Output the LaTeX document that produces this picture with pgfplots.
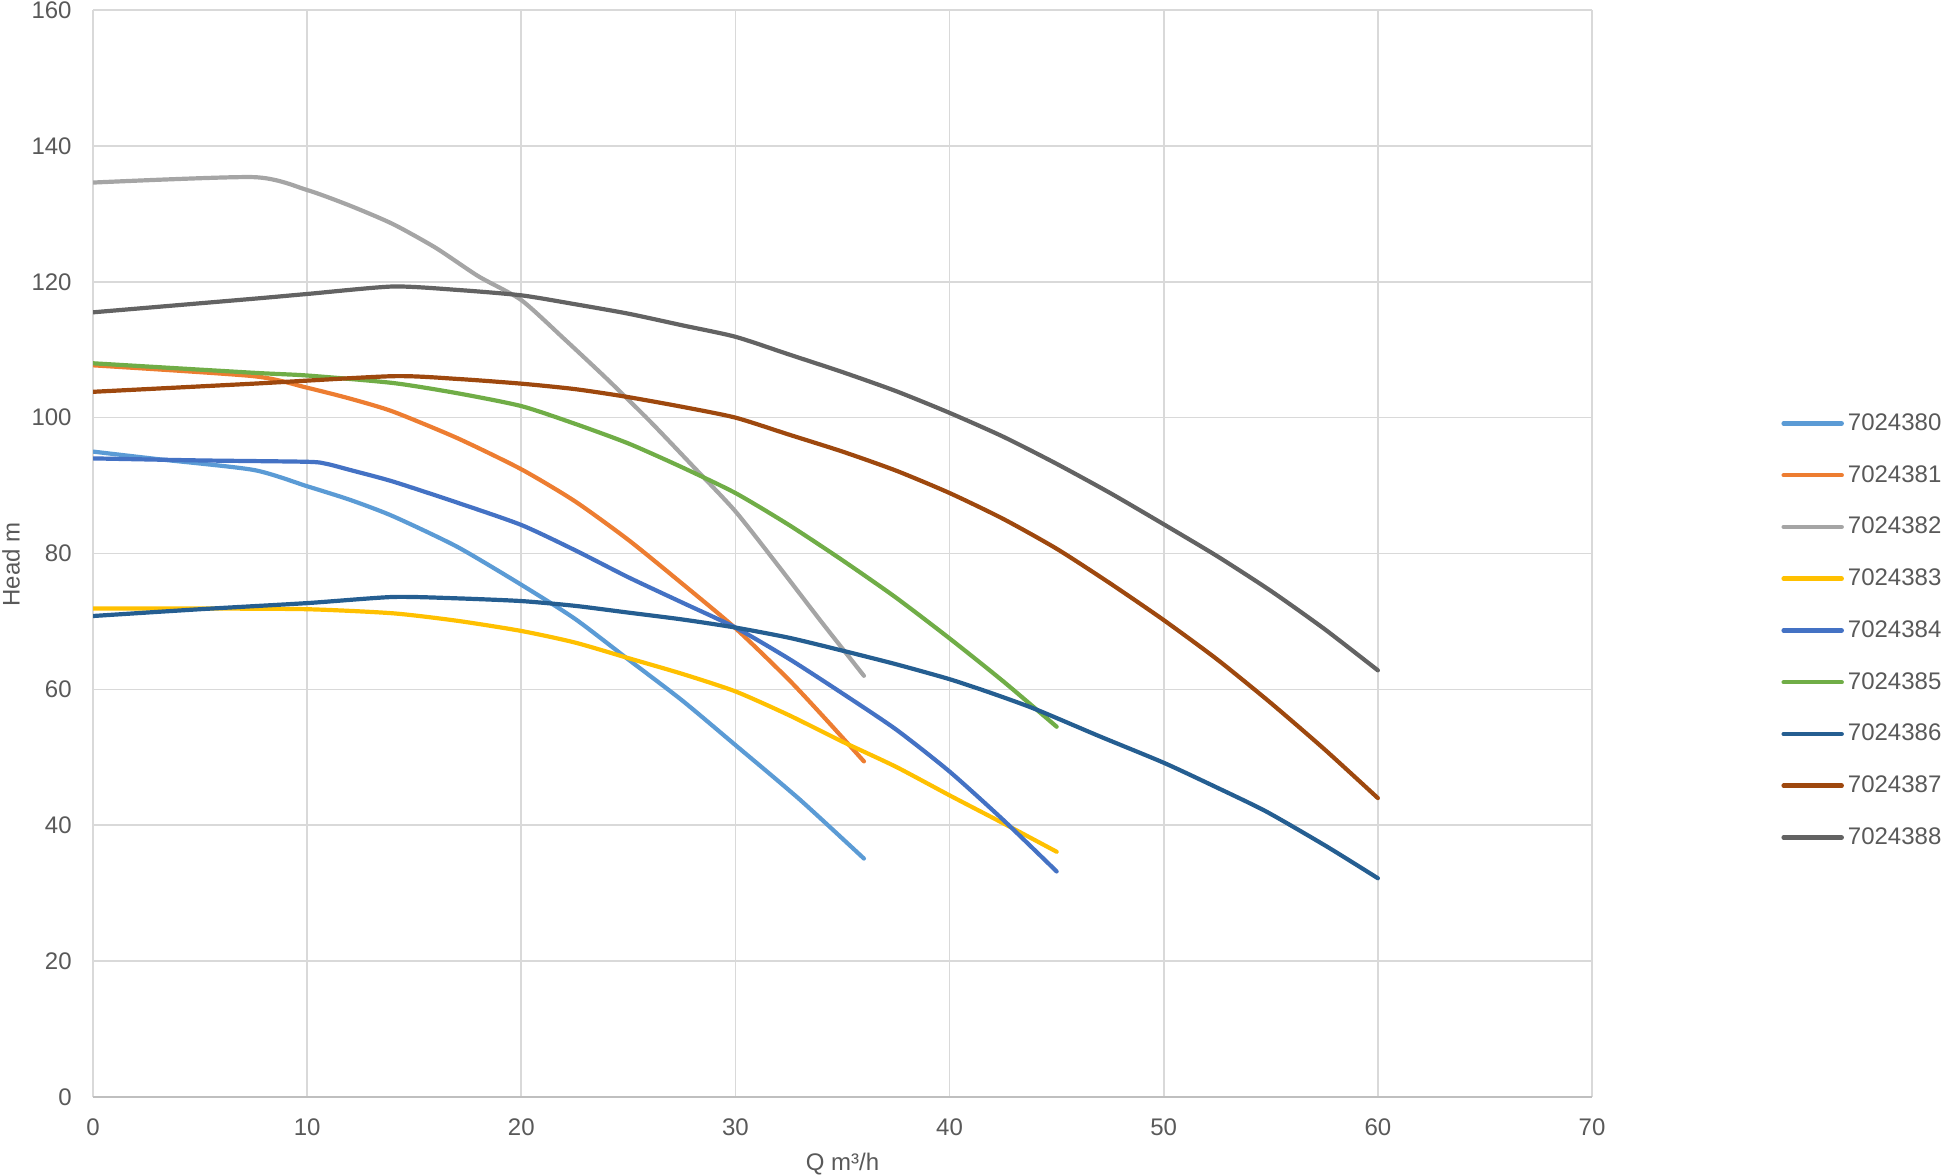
\documentclass[border=0pt]{standalone}
\usepackage{fontspec}
\setmainfont{Liberation Sans}
\usepackage{pgfplots}
\pgfplotsset{compat=1.18}
\definecolor{c0}{HTML}{5B9BD5}
\definecolor{c1}{HTML}{ED7D31}
\definecolor{c2}{HTML}{A5A5A5}
\definecolor{c3}{HTML}{FFC000}
\definecolor{c4}{HTML}{4472C4}
\definecolor{c5}{HTML}{70AD47}
\definecolor{c6}{HTML}{255E91}
\definecolor{c7}{HTML}{9E480E}
\definecolor{c8}{HTML}{636363}
\definecolor{txt}{HTML}{595959}
\definecolor{gridc}{HTML}{D9D9D9}
\definecolor{axc}{HTML}{BFBFBF}
\begin{document}
\begin{tikzpicture}
\useasboundingbox (0,0) rectangle (973pt,587.5pt);
\begin{axis}[
  at={(46.5pt,39pt)}, anchor=south west,
  width=749.5pt, height=543.5pt, scale only axis,
  xmin=0, xmax=70, ymin=0, ymax=160,
  xtick={0,10,...,70}, ytick={0,20,...,160},
  grid=major, grid style={draw=gridc, line width=0.8pt},
  axis line style={draw=none},
  major tick length=0pt,
  tick label style={font=\fontsize{12}{14}\selectfont, text=txt, inner sep=0pt},
  /pgf/number format/assume math mode=true,
  xticklabel shift=10.5pt, yticklabel shift=10.5pt,
  extra y ticks={0}, extra y tick labels={},
  extra y tick style={grid style={draw=axc, line width=1pt}},
  xlabel={Q m³/h}, ylabel={Head m},
  every axis x label/.style={at={(axis description cs:0.5,-0.0616)}, anchor=center, font=\fontsize{12}{14}\selectfont, text=txt},
  every axis y label/.style={at={(axis description cs:-0.0547,0.49)}, rotate=90, anchor=center, font=\fontsize{12}{14}\selectfont, text=txt},
  legend cell align=left,
  legend style={at={(1.1261,0.4292)}, anchor=west, draw=none, fill=none,
    inner sep=0pt, row sep=14pt, column sep=1pt,
    nodes={inner sep=1pt, font=\fontsize{12}{14}\selectfont, text=txt}},
  legend image code/.code={\draw[#1, line width=2.25pt, line cap=round] (0pt,0pt) -- (29pt,0pt);},
  every axis plot/.append style={line width=2.1pt, line join=round, line cap=round, smooth, tension=0.4},
]
\addplot[c0] coordinates {(0,95.0) (3,93.9) (7.5,92.3) (10,89.9) (12,87.9) (14,85.5) (17,81.0) (20,75.4) (22.5,70.4) (25,64.4) (27.5,58.4) (30,51.8) (33,43.8) (36,35.1)};
\addlegendentry{7024380}
\addplot[c1] coordinates {(0,107.7) (7.5,106.1) (10,104.4) (12,102.8) (14,100.9) (17,97.0) (20,92.4) (22.5,87.7) (25,82.0) (27.5,75.6) (30,69.0) (32.5,61.4) (34.25,55.5) (36,49.4)};
\addlegendentry{7024381}
\addplot[c2] coordinates {(0,134.6) (7.5,135.4) (10,133.5) (12,131.2) (14,128.5) (16,125.0) (18,120.8) (20,117.3) (22,111.6) (24,105.7) (26,99.5) (28,92.9) (30,86.2) (32,78.2) (34,70.0) (36,62.0)};
\addlegendentry{7024382}
\addplot[c3] coordinates {(0,71.9) (5,71.9) (10,71.8) (14,71.2) (17,70.1) (20,68.6) (22.5,66.9) (25,64.6) (27.5,62.3) (30,59.7) (32.5,56.2) (35,52.3) (37.5,48.6) (40,44.4) (42.5,40.3) (45,36.1)};
\addlegendentry{7024383}
\addplot[c4] coordinates {(0,94.0) (5,93.7) (10,93.5) (10.9,93.2) (12,92.3) (14,90.6) (17,87.5) (20,84.2) (22.5,80.5) (25,76.5) (27.5,72.8) (30,69.1) (32.5,64.5) (35,59.4) (37.5,54.1) (40,47.9) (42.5,40.8) (45,33.2)};
\addlegendentry{7024384}
\addplot[c5] coordinates {(0,108.0) (7.5,106.6) (10,106.2) (14,105.1) (17,103.6) (20,101.7) (22.5,99.1) (25,96.2) (27.5,92.7) (30,88.9) (32.5,84.2) (35,79.0) (37.5,73.5) (40,67.5) (42.5,61.2) (45,54.5)};
\addlegendentry{7024385}
\addplot[c6] coordinates {(0,70.8) (5,71.8) (10,72.7) (14,73.6) (17,73.4) (20,73.0) (22.5,72.3) (25,71.3) (27.5,70.3) (30,69.1) (32.5,67.6) (35,65.7) (37.5,63.7) (40,61.5) (42,59.4) (44,57.1) (47,53.1) (50,49.2) (52.45,45.6) (54.8,42.0) (57.6,36.9) (60,32.2)};
\addlegendentry{7024386}
\addplot[c7] coordinates {(0,103.8) (7.5,105.0) (14,106.1) (17,105.7) (20,105.0) (22.5,104.2) (24.85,103.1) (27.5,101.6) (30,100.0) (32.5,97.5) (35,95.0) (37.5,92.2) (40,88.9) (42.5,85.1) (45,80.7) (47.5,75.6) (50,70.2) (52.5,64.4) (55,58.0) (57.5,51.2) (60,44.0)};
\addlegendentry{7024387}
\addplot[c8] coordinates {(0,115.5) (7.5,117.5) (10,118.2) (14,119.3) (17,118.8) (20,118.0) (22.5,116.7) (25,115.3) (27.5,113.6) (30,111.9) (32.5,109.3) (35,106.7) (37.5,103.9) (40,100.7) (42.5,97.2) (45,93.2) (47.5,88.9) (50,84.3) (52.5,79.6) (55,74.5) (57.5,68.9) (60,62.8)};
\addlegendentry{7024388}
\end{axis}
\end{tikzpicture}
\end{document}
